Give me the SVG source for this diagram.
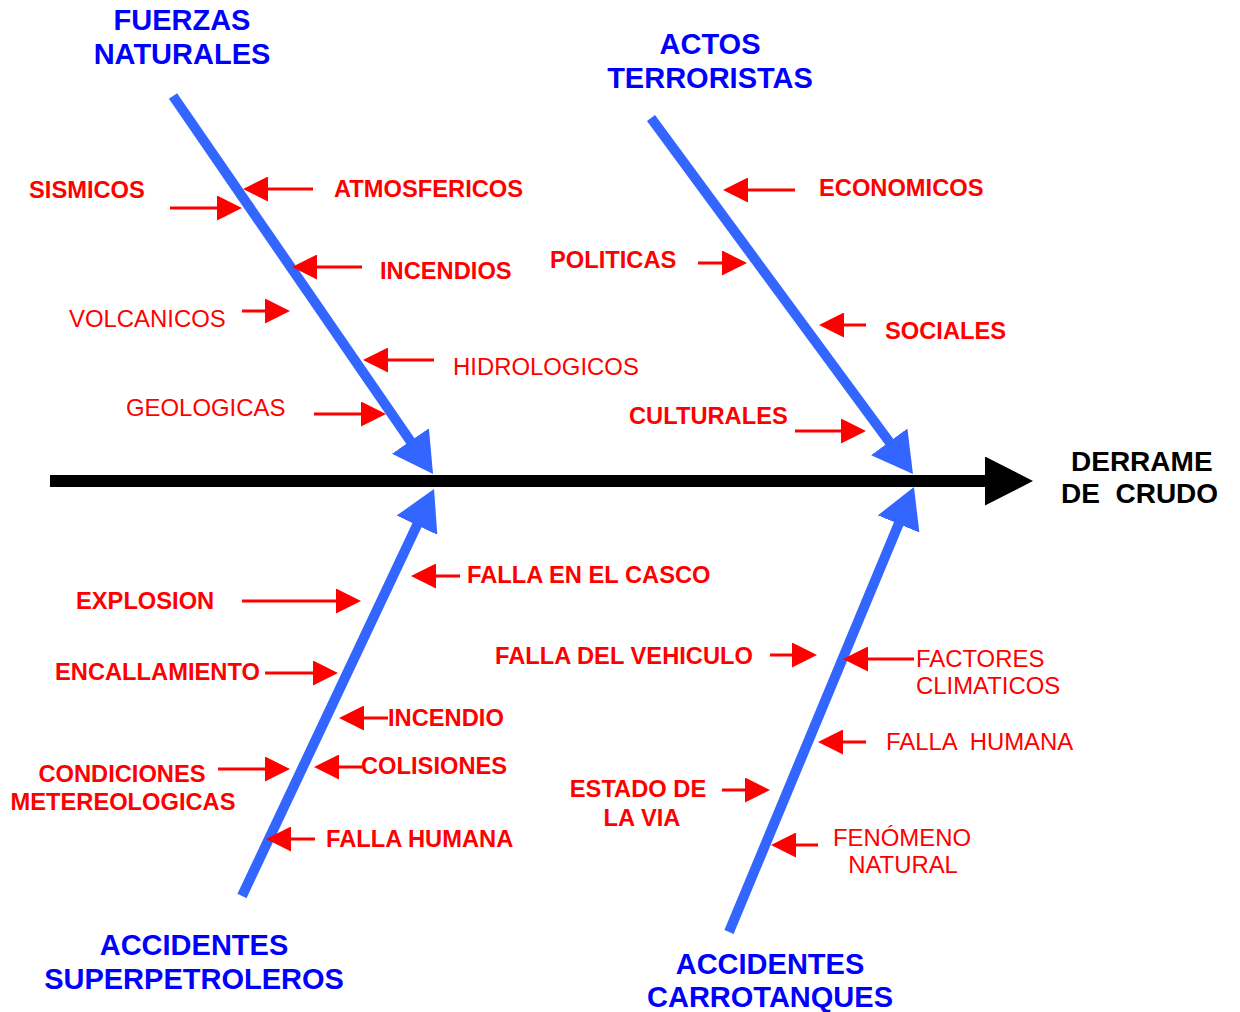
<svg xmlns="http://www.w3.org/2000/svg" width="1240" height="1012" viewBox="0 0 1240 1012">
<style>
text{font-family:"Liberation Sans",Arial,sans-serif;}
.h{font-size:29px;font-weight:bold;fill:#0000FF;text-anchor:middle;}
.k{font-size:28px;font-weight:bold;fill:#000;white-space:pre;}
.b{font-size:23.7px;font-weight:bold;fill:#FF0000;}
.r{font-size:23.9px;fill:#FF0000;white-space:pre;}
.m{text-anchor:middle;}
.bone{stroke:#3366FF;stroke-width:10;fill:none;marker-end:url(#bh);}
.sp{stroke:#000;stroke-width:12;fill:none;marker-end:url(#kh);}
.ar{stroke:#FF0000;stroke-width:3;fill:none;marker-end:url(#rh);}
</style>
<defs>
<marker id="bh" viewBox="0 0 40 45" refX="20" refY="22.5" markerWidth="40" markerHeight="45" markerUnits="userSpaceOnUse" orient="auto"><path d="M0,0 L40,22.5 L0,45 Z" fill="#3366FF"/></marker>
<marker id="kh" viewBox="0 0 48 49" refX="5" refY="24.5" markerWidth="48" markerHeight="49" markerUnits="userSpaceOnUse" orient="auto"><path d="M0,0 L48,24.5 L0,49 Z" fill="#000"/></marker>
<marker id="rh" viewBox="0 0 25 25" refX="15" refY="12.5" markerWidth="25" markerHeight="25" markerUnits="userSpaceOnUse" orient="auto"><path d="M0,0 L25,12.5 L0,25 Z" fill="#FF0000"/></marker>
</defs>
<rect width="1240" height="1012" fill="#fff"/>
<g id="connectors">
<line class="sp" x1="50" y1="481" x2="990" y2="481"/>
<line class="bone" x1="173" y1="96" x2="421.7" y2="457.5"/>
<line class="bone" x1="242" y1="896" x2="425.5" y2="507.1"/>
<line class="bone" x1="651" y1="118" x2="901.1" y2="457.9"/>
<line class="bone" x1="729" y1="932" x2="906.3" y2="505.5"/>
<line class="ar" x1="170" y1="208" x2="232" y2="208"/>
<line class="ar" x1="313" y1="189" x2="253" y2="189"/>
<line class="ar" x1="362" y1="267" x2="302" y2="267"/>
<line class="ar" x1="242" y1="311" x2="280" y2="311"/>
<line class="ar" x1="434" y1="360" x2="373" y2="360"/>
<line class="ar" x1="314" y1="414" x2="376" y2="414"/>
<line class="ar" x1="795" y1="190" x2="733" y2="190"/>
<line class="ar" x1="698" y1="263" x2="737" y2="263"/>
<line class="ar" x1="866" y1="325" x2="829" y2="325"/>
<line class="ar" x1="795" y1="431" x2="856" y2="431"/>
<line class="ar" x1="460" y1="576" x2="421" y2="576"/>
<line class="ar" x1="242" y1="601" x2="351" y2="601"/>
<line class="ar" x1="265" y1="673" x2="328" y2="673"/>
<line class="ar" x1="388" y1="718" x2="349" y2="718"/>
<line class="ar" x1="218" y1="769" x2="280" y2="769"/>
<line class="ar" x1="362" y1="767" x2="324" y2="767"/>
<line class="ar" x1="315" y1="839" x2="276" y2="839"/>
<line class="ar" x1="770" y1="655" x2="807" y2="655"/>
<line class="ar" x1="914" y1="659" x2="853" y2="659"/>
<line class="ar" x1="866" y1="742" x2="828" y2="742"/>
<line class="ar" x1="722" y1="790" x2="760" y2="790"/>
<line class="ar" x1="818" y1="845" x2="781" y2="845"/>
</g>
<g id="fuerzas-naturales"><text class="h" x="182" y="30">FUERZAS</text><text class="h" x="182" y="64">NATURALES</text></g>
<g id="actos-terroristas"><text class="h" x="710" y="54">ACTOS</text><text class="h" x="710" y="88">TERRORISTAS</text></g>
<g id="accidentes-superpetroleros"><text class="h" x="194" y="955">ACCIDENTES</text><text class="h" x="194" y="989">SUPERPETROLEROS</text></g>
<g id="accidentes-carrotanques"><text class="h" x="770" y="974">ACCIDENTES</text><text class="h" x="770" y="1007">CARROTANQUES</text></g>
<g id="derrame-de-crudo"><text class="k" x="1071" y="471" xml:space="preserve">DERRAME</text><text class="k" x="1061" y="503" xml:space="preserve">DE  CRUDO</text></g>
<g id="sismicos"><text class="b" x="29" y="198">SISMICOS</text></g>
<g id="atmosfericos"><text class="b" x="334" y="197">ATMOSFERICOS</text></g>
<g id="incendios"><text class="b" x="380" y="279">INCENDIOS</text></g>
<g id="volcanicos"><text class="r" x="69" y="327">VOLCANICOS</text></g>
<g id="hidrologicos"><text class="r" x="453" y="375">HIDROLOGICOS</text></g>
<g id="geologicas"><text class="r" x="126" y="416">GEOLOGICAS</text></g>
<g id="economicos"><text class="b" x="819" y="196">ECONOMICOS</text></g>
<g id="politicas"><text class="b" x="550" y="268">POLITICAS</text></g>
<g id="sociales"><text class="b" x="885" y="339">SOCIALES</text></g>
<g id="culturales"><text class="b" x="629" y="424">CULTURALES</text></g>
<g id="falla-casco"><text class="b" x="467" y="583">FALLA EN EL CASCO</text></g>
<g id="explosion"><text class="b" x="76" y="609">EXPLOSION</text></g>
<g id="encallamiento"><text class="b" x="55" y="680">ENCALLAMIENTO</text></g>
<g id="incendio"><text class="b" x="388" y="726">INCENDIO</text></g>
<g id="condiciones"><text class="b m" x="122" y="782">CONDICIONES</text><text class="b m" x="123" y="810">METEREOLOGICAS</text></g>
<g id="colisiones"><text class="b" x="361" y="774">COLISIONES</text></g>
<g id="falla-humana-1"><text class="b" x="326" y="847">FALLA HUMANA</text></g>
<g id="falla-vehiculo"><text class="b" x="495" y="664">FALLA DEL VEHICULO</text></g>
<g id="factores-climaticos"><text class="r" x="916" y="667">FACTORES</text><text class="r" x="916" y="694">CLIMATICOS</text></g>
<g id="falla-humana-2"><text class="r" x="886" y="750" xml:space="preserve">FALLA  HUMANA</text></g>
<g id="estado-via"><text class="b m" x="638" y="797">ESTADO DE</text><text class="b m" x="642" y="826">LA VIA</text></g>
<g id="fenomeno-natural"><text class="r m" x="902" y="846">FENÓMENO</text><text class="r m" x="903" y="873">NATURAL</text></g>
</svg>
